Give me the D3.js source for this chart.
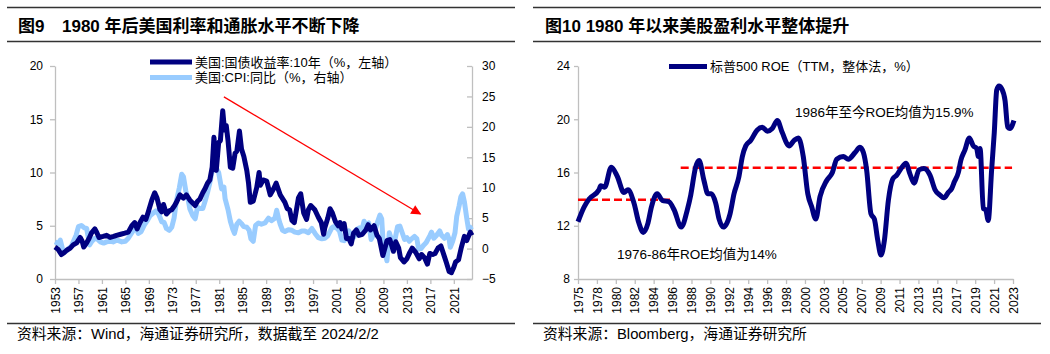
<!DOCTYPE html>
<html>
<head>
<meta charset="utf-8">
<script src="https://cdn.jsdelivr.net/npm/d3@7"></script>
<style>
body { margin: 0; background: #fff; }
text { font-family: "Liberation Sans", Arial, "Noto Sans CJK SC", sans-serif; fill: #000; }
</style>
</head>
<body>
<svg id="chart" width="1050" height="354"></svg>
<script>
// ---- left chart data: [year, value]
var yieldData = [
  [1953.0,3.0],[1953.5,2.8],[1954.1,2.3],[1954.6,2.5],[1955.0,2.7],[1955.6,2.9],[1956.1,3.2],[1956.7,3.4],
  [1957.3,3.9],[1957.6,3.6],[1957.9,3.0],[1958.4,3.4],[1958.8,3.8],[1959.2,4.3],[1959.8,4.7],[1960.1,4.4],
  [1960.5,3.9],[1961.2,4.0],[1961.8,4.1],[1962.4,3.9],[1963.0,4.0],[1963.5,4.1],[1964.2,4.2],[1964.9,4.3],
  [1965.5,4.4],[1966.1,5.0],[1966.6,5.3],[1967.0,4.7],[1967.5,5.3],[1968.0,5.8],[1968.5,5.6],[1968.9,6.3],
  [1969.5,7.4],[1970.0,8.1],[1970.4,7.6],[1970.9,6.5],[1971.2,6.3],[1971.5,7.0],[1972.0,6.1],[1972.5,6.4],
  [1972.9,6.5],[1973.4,6.9],[1973.7,7.2],[1974.3,7.9],[1974.9,7.6],[1975.4,7.9],[1976.0,7.4],[1976.9,6.9],
  [1977.3,7.3],[1977.7,7.5],[1978.2,8.1],[1978.6,8.5],[1979.0,9.0],[1979.4,9.3],[1979.8,10.5],[1980.1,13.3],
  [1980.5,10.2],[1980.9,12.8],[1981.2,13.0],[1981.6,15.8],[1981.9,14.0],[1982.2,14.4],[1982.5,13.0],[1982.9,10.5],
  [1983.3,10.4],[1983.7,11.8],[1984.0,12.0],[1984.45,13.9],[1984.8,12.2],[1985.2,11.5],[1985.7,10.2],[1986.0,9.0],
  [1986.3,7.2],[1986.8,7.3],[1987.4,8.6],[1987.8,10.0],[1988.0,8.8],[1988.5,9.3],[1989.1,9.2],[1989.7,7.9],
  [1990.3,8.5],[1990.7,9.0],[1991.4,7.9],[1992.2,7.2],[1992.6,6.6],[1993.0,6.5],[1993.4,5.5],[1993.8,5.3],
  [1994.5,7.6],[1994.9,8.0],[1995.4,6.2],[1995.9,5.6],[1996.2,6.5],[1996.6,6.9],[1997.3,6.5],[1997.9,5.8],
  [1998.4,5.3],[1998.8,4.2],[1999.0,4.8],[1999.5,5.7],[1999.9,6.6],[2000.3,6.2],[2000.8,5.4],[2001.3,5.0],
  [2001.6,5.3],[2001.9,4.7],[2002.3,5.2],[2002.7,3.8],[2003.1,3.8],[2003.5,3.3],[2003.9,4.3],[2004.4,4.6],
  [2004.8,4.1],[2005.4,4.2],[2006.0,4.6],[2006.4,5.1],[2006.8,4.6],[2007.4,5.0],[2007.9,4.1],[2008.3,3.8],
  [2008.9,2.2],[2009.3,3.0],[2009.6,3.6],[2010.1,3.7],[2010.7,2.6],[2011.1,3.5],[2011.6,2.9],[2011.9,2.0],
  [2012.5,1.6],[2013.0,1.9],[2013.5,2.5],[2013.9,2.9],[2014.5,2.5],[2015.1,1.9],[2015.5,2.3],[2016.0,2.0],
  [2016.5,1.4],[2016.9,2.4],[2017.4,2.3],[2017.8,2.4],[2018.3,2.9],[2018.8,3.1],[2019.4,2.1],[2019.7,1.6],
  [2020.2,0.7],[2020.6,0.6],[2021.0,1.1],[2021.3,1.6],[2021.8,1.8],[2022.3,3.0],[2022.8,4.0],[2023.2,3.6],
  [2023.8,4.4],[2024.1,4.1]
];
var cpiData = [
  [1953.0,1.1],[1953.6,0.8],[1953.9,1.4],[1954.4,-0.5],[1954.9,-0.4],[1955.3,0.0],[1955.8,0.4],[1956.1,1.1],
  [1956.6,2.2],[1957.0,3.6],[1957.5,3.8],[1958.0,3.4],[1958.4,3.3],[1958.9,0.6],[1959.3,1.2],[1959.8,1.7],
  [1960.3,1.5],[1960.7,1.1],[1961.3,0.9],[1961.8,1.1],[1962.4,1.2],[1962.9,1.1],[1963.6,1.4],[1964.4,1.1],
  [1965.0,1.2],[1965.5,1.7],[1966.3,2.9],[1966.8,3.6],[1967.2,2.5],[1967.7,2.8],[1968.3,4.0],[1968.8,4.7],
  [1969.2,5.4],[1969.7,5.8],[1970.2,6.2],[1970.7,5.6],[1971.2,4.4],[1971.6,4.3],[1972.0,3.3],[1972.5,3.0],
  [1972.9,3.5],[1973.3,5.0],[1973.7,7.8],[1974.2,10.0],[1974.6,12.2],[1974.9,11.8],[1975.3,9.5],[1975.7,8.0],
  [1976.0,6.5],[1976.5,5.4],[1976.9,4.9],[1977.3,6.8],[1977.7,6.6],[1978.2,6.6],[1978.6,7.8],[1979.0,9.2],
  [1979.4,10.8],[1979.9,13.2],[1980.2,14.6],[1980.6,13.0],[1980.9,12.5],[1981.4,9.8],[1981.8,10.1],[1982.0,8.2],
  [1982.5,6.4],[1982.9,4.5],[1983.3,3.2],[1983.6,2.5],[1984.0,4.0],[1984.4,4.5],[1984.8,4.1],[1985.2,3.6],
  [1985.7,3.5],[1986.1,3.0],[1986.4,1.6],[1986.8,1.2],[1987.2,3.8],[1987.7,4.2],[1988.2,4.0],[1988.8,4.2],
  [1989.4,5.0],[1989.9,4.6],[1990.5,5.0],[1990.8,6.3],[1991.1,5.0],[1991.4,4.0],[1991.8,3.0],[1992.2,2.8],
  [1992.8,3.1],[1993.4,3.0],[1993.9,2.7],[1994.5,2.6],[1995.1,2.9],[1995.6,2.9],[1996.2,2.6],[1996.8,3.3],
  [1997.4,2.4],[1997.9,1.8],[1998.5,1.6],[1999.0,1.7],[1999.5,2.1],[2000.2,3.4],[2000.5,3.6],[2001.0,3.4],
  [2001.5,2.9],[2001.9,1.4],[2002.3,1.3],[2002.7,1.7],[2003.1,2.9],[2003.6,2.1],[2004.0,1.9],[2004.4,3.1],
  [2004.9,3.4],[2005.3,3.0],[2005.7,4.5],[2006.0,3.8],[2006.5,4.2],[2006.9,1.5],[2007.5,2.7],[2007.9,4.1],
  [2008.4,5.5],[2008.7,4.9],[2009.0,0.2],[2009.6,-2.0],[2010.0,2.6],[2010.5,1.1],[2011.0,1.6],[2011.4,3.6],
  [2011.8,3.7],[2012.2,2.6],[2012.6,1.5],[2013.0,1.8],[2013.4,1.2],[2013.8,1.6],[2014.3,2.0],[2014.7,1.6],
  [2015.0,-0.1],[2015.4,0.0],[2015.9,0.6],[2016.3,1.0],[2016.9,2.1],[2017.2,2.7],[2017.6,1.7],[2018.0,2.1],
  [2018.6,2.9],[2018.9,2.2],[2019.4,1.7],[2019.9,2.3],[2020.2,1.5],[2020.4,0.2],[2020.8,1.2],[2021.2,2.6],
  [2021.5,5.3],[2021.9,7.0],[2022.2,8.5],[2022.5,9.0],[2022.8,7.7],[2023.2,5.0],[2023.5,3.2],[2023.8,3.5],
  [2024.0,3.1]
];
var yearTicks = [1953,1957,1961,1965,1969,1973,1977,1981,1985,1989,1993,1997,2001,2005,2009,2013,2017,2021];
var leftTicks = [0,5,10,15,20];
var rightTicks = [-5,0,5,10,15,20,25,30];
var arrowFrom = [1981.8, 17.1], arrowTo = [2015.3, 6.1];
var leftNames = ["美国:国债收益率:10年（%，左轴）", "美国:CPI:同比（%，右轴）"];

// ---- right chart data: [position on category axis, ROE %]
var roeLabels = ["1975","1978","1980","1982","1984","1986","1988","1990","1992","1994","1996","1998",
  "2000","2003","2005","2007","2009","2011","2013","2015","2017","2019","2021","2023"];
var roeData = [
  [0.00,12.3],[0.32,13.4],[0.58,14.0],[1.11,14.7],[1.20,15.0],[1.41,14.9],[1.76,16.4],[2.08,15.7],
  [2.43,14.5],[2.64,14.7],[2.96,13.7],[3.22,12.2],[3.45,11.5],[3.70,12.2],[3.88,13.4],[4.19,14.4],
  [4.46,13.9],[4.81,13.8],[5.08,13.2],[5.46,11.9],[5.78,13.2],[5.96,14.3],[6.22,16.4],[6.40,16.9],
  [6.66,15.4],[6.87,14.4],[7.05,14.4],[7.28,13.7],[7.46,12.5],[7.68,11.9],[8.04,12.9],[8.25,14.4],
  [8.51,15.7],[8.69,17.2],[8.87,18.0],[9.13,18.4],[9.48,19.2],[9.74,19.4],[10.01,19.1],[10.27,19.3],
  [10.54,19.9],[10.80,19.0],[11.16,18.0],[11.42,18.4],[11.65,18.6],[11.91,17.2],[12.15,14.4],[12.36,13.4],
  [12.57,12.5],[12.80,14.2],[13.15,15.4],[13.45,16.0],[13.68,17.0],[14.03,17.2],[14.29,17.0],[14.65,17.5],
  [14.91,17.9],[15.09,17.5],[15.26,16.2],[15.49,12.9],[15.67,12.5],[15.85,10.9],[16.02,9.8],[16.20,10.9],
  [16.41,13.9],[16.64,15.5],[16.85,15.8],[17.08,16.3],[17.34,16.7],[17.55,15.9],[17.77,15.2],[18.03,16.2],
  [18.29,16.3],[18.61,15.8],[18.88,14.7],[19.14,14.3],[19.35,14.1],[19.58,14.5],[19.76,14.8],[19.90,15.3],
  [20.11,16.0],[20.24,16.9],[20.46,17.7],[20.69,18.6],[20.90,18.0],[21.08,17.8],[21.17,17.2],[21.26,17.8],
  [21.43,13.3],[21.56,13.2],[21.69,12.4],[21.87,16.2],[22.01,19.0],[22.14,22.2],[22.26,22.5],[22.40,22.3],
  [22.58,21.4],[22.72,19.4],[22.84,19.3],[23.05,19.9]
];
var roeTicks = [8,12,16,20,24];
var avgLines = [
  { from: 0, to: 4.92, value: 13.95 },
  { from: 5.43, to: 22.95, value: 16.35 }
];
var roeName = "标普500 ROE（TTM，整体法，%）";
var avgNotes = ["1986年至今ROE均值为15.9%", "1976-86年ROE均值为14%"];

var navy = "#000080", lightBlue = "#99ccff", axisGray = "#bfbfbf";
var svg = d3.select("#chart");

function styleAxis(g) {
  g.select(".domain").attr("stroke", axisGray).attr("stroke-width", 1.3);
  g.selectAll(".tick line").attr("stroke", axisGray).attr("stroke-width", 1.3);
  g.selectAll(".tick text").attr("fill", "#000").style("font-size", "12px")
    .style("font-family", '"Liberation Sans", Arial, sans-serif');
}

// title bars and footers
function frame(x0, x1, title, source) {
  svg.append("line").attr("x1", x0).attr("x2", x1).attr("y1", 7.5).attr("y2", 7.5)
    .attr("stroke", "#333").attr("stroke-width", 1.6);
  svg.append("line").attr("x1", x0).attr("x2", x1).attr("y1", 41.5).attr("y2", 41.5)
    .attr("stroke", "#333").attr("stroke-width", 1.6);
  svg.append("line").attr("x1", x0).attr("x2", x1).attr("y1", 323.5).attr("y2", 323.5)
    .attr("stroke", "#333").attr("stroke-width", 1.6);
  title(svg);
  svg.append("text").attr("x", x0 + 10).attr("y", 338.5)
    .style("font-size", "14.8px").text(source);
}

frame(7, 515, function(s) {
  s.append("text").attr("x", 18).attr("y", 32).style("font-size", "17px").style("font-weight", "bold").text("图9");
  s.append("text").attr("x", 62).attr("y", 32).style("font-size", "17px").style("font-weight", "bold")
    .text("1980 年后美国利率和通胀水平不断下降");
}, "资料来源：Wind，海通证券研究所，数据截至 2024/2/2");

frame(533, 1041, function(s) {
  s.append("text").attr("x", 545).attr("y", 32).style("font-size", "17px").style("font-weight", "bold")
    .text("图10 1980 年以来美股盈利水平整体提升");
}, "资料来源：Bloomberg，海通证券研究所");

// ---------- left chart ----------
var x1 = d3.scaleLinear().domain([1953, 2024.1]).range([55, 472]);
var yL = d3.scaleLinear().domain([0, 20]).range([279, 66]);
var yR = d3.scaleLinear().domain([-5, 30]).range([279, 66]);

svg.append("g").attr("transform", "translate(55,0)")
  .call(d3.axisLeft(yL).tickValues(leftTicks).tickSizeInner(5).tickSizeOuter(0).tickPadding(7))
  .call(styleAxis);
svg.append("g").attr("transform", "translate(472,0)")
  .call(d3.axisRight(yR).tickValues(rightTicks).tickSizeInner(-5).tickSizeOuter(0).tickPadding(10))
  .call(styleAxis);
var gx1 = svg.append("g").attr("transform", "translate(0,279)")
  .call(d3.axisBottom(x1).tickValues(yearTicks).tickFormat(d3.format("d")).tickSizeInner(5).tickSizeOuter(0))
  .call(styleAxis);
gx1.selectAll(".tick text").attr("transform", "rotate(-90)").attr("x", -8).attr("y", 0)
  .attr("dy", "0.35em").style("text-anchor", "end");

var cpiLine = d3.line().x(function(d) { return x1(d[0]); }).y(function(d) { return yR(d[1]); });
var yieldLine = d3.line().x(function(d) { return x1(d[0]); }).y(function(d) { return yL(d[1]); });

svg.append("path").datum(cpiData).attr("d", cpiLine).attr("fill", "none")
  .attr("stroke", lightBlue).attr("stroke-width", 5).attr("stroke-linejoin", "round");
svg.append("path").datum(yieldData).attr("d", yieldLine).attr("fill", "none")
  .attr("stroke", navy).attr("stroke-width", 5).attr("stroke-linejoin", "round");

// arrow
svg.append("defs").append("marker").attr("id", "arrowhead")
  .attr("viewBox", "0 0 10 10").attr("refX", 9).attr("refY", 5)
  .attr("markerWidth", 14).attr("markerHeight", 10).attr("markerUnits", "userSpaceOnUse")
  .attr("orient", "auto")
  .append("path").attr("d", "M0,0 L10,5 L0,10 Z").attr("fill", "#ff0000");
svg.append("line")
  .attr("x1", x1(arrowFrom[0])).attr("y1", yL(arrowFrom[1]))
  .attr("x2", x1(arrowTo[0])).attr("y2", yL(arrowTo[1]))
  .attr("stroke", "#ff0000").attr("stroke-width", 1.3).attr("marker-end", "url(#arrowhead)");

// legend
[navy, lightBlue].forEach(function(c, i) {
  var ly = 62 + i * 15.5;
  svg.append("line").attr("x1", 150).attr("x2", 192).attr("y1", ly).attr("y2", ly)
    .attr("stroke", c).attr("stroke-width", 5);
  svg.append("text").attr("x", 195).attr("y", ly + 4.5).style("font-size", "13px").text(leftNames[i]);
});

// ---------- right chart ----------
var x2 = d3.scaleLinear().domain([0, roeLabels.length - 1]).range([578, 1013]);
var y2 = d3.scaleLinear().domain([8, 24]).range([279, 66]);

svg.append("g").attr("transform", "translate(578,0)")
  .call(d3.axisLeft(y2).tickValues(roeTicks).tickSizeInner(4).tickSizeOuter(0).tickPadding(4))
  .call(styleAxis);
var gx2 = svg.append("g").attr("transform", "translate(0,279)")
  .call(d3.axisBottom(x2).tickValues(d3.range(roeLabels.length))
    .tickFormat(function(i) { return roeLabels[i]; }).tickSizeInner(5).tickSizeOuter(0))
  .call(styleAxis);
gx2.selectAll(".tick text").attr("transform", "rotate(-90)").attr("x", -8).attr("y", 0)
  .attr("dy", "0.35em").style("text-anchor", "end");

svg.selectAll(".avg").data(avgLines).enter().append("line").attr("class", "avg")
  .attr("x1", function(d) { return x2(d.from); }).attr("x2", function(d) { return x2(d.to); })
  .attr("y1", function(d) { return y2(d.value); }).attr("y2", function(d) { return y2(d.value); })
  .attr("stroke", "#ff0000").attr("stroke-width", 2.5).attr("stroke-dasharray", "8,4");

var roeLine = d3.line().x(function(d) { return x2(d[0]); }).y(function(d) { return y2(d[1]); })
  .curve(d3.curveMonotoneX);
svg.append("path").datum(roeData).attr("d", roeLine).attr("fill", "none")
  .attr("stroke", navy).attr("stroke-width", 5).attr("stroke-linejoin", "round");

svg.append("line").attr("x1", 669).attr("x2", 707).attr("y1", 66.5).attr("y2", 66.5)
  .attr("stroke", navy).attr("stroke-width", 5);
svg.append("text").attr("x", 710).attr("y", 71).style("font-size", "13px").text(roeName);

svg.append("text").attr("x", 795).attr("y", 117).style("font-size", "13.5px").text(avgNotes[0]);
svg.append("text").attr("x", 617).attr("y", 259).style("font-size", "13.5px").text(avgNotes[1]);
</script>
</body>
</html>
